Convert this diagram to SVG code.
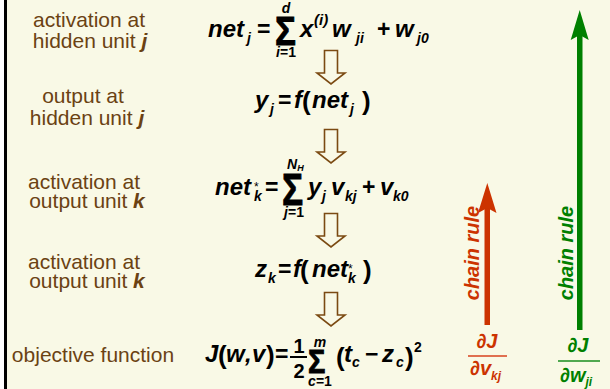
<svg xmlns="http://www.w3.org/2000/svg" width="610" height="389" viewBox="0 0 610 389">
<defs>
<style>
.lbl{font-family:"Liberation Sans",Arial,sans-serif;font-size:21px;fill:#6B4213;text-anchor:middle}
.lbl .v{font-weight:bold;font-style:italic}
.eq{font-family:"Liberation Sans",Arial,sans-serif;font-size:24px;font-weight:bold;font-style:italic;fill:#000}
.sub{font-size:14px}
.up{font-style:normal}
.op{font-style:normal;font-size:23px}
.par{font-size:26px;font-style:normal}
.ast{font-size:12px;font-weight:normal;font-style:normal}
.sig{font-style:normal;stroke:#000;stroke-width:0.9}
.mid{text-anchor:middle}
.hol{fill:#F9F9E6;stroke:#7B4A12;stroke-width:1.6}
.red{fill:#CC3300}
.grn{fill:#008000}
.cr{font-family:"Liberation Sans",Arial,sans-serif;font-size:20px;font-weight:bold;font-style:italic;text-anchor:middle}
.pd{font-family:"Liberation Sans","DejaVu Sans",sans-serif;font-size:20px;font-weight:bold;font-style:italic}
</style>
</defs>
<rect x="0" y="0" width="610" height="389" fill="#F9F9E6"/>
<rect x="0" y="0" width="4" height="389" fill="#FFFFFF"/>
<rect x="4" y="0" width="3" height="389" fill="#000000"/>

<g id="label1" class="lbl">
<text x="89" y="27">activation at</text>
<text x="90" y="48">hidden unit <tspan class="v">j</tspan></text>
</g>
<g id="label2" class="lbl">
<text x="83" y="103">output at</text>
<text x="87" y="125">hidden unit <tspan class="v">j</tspan></text>
</g>
<g id="label3" class="lbl">
<text x="84" y="189">activation at</text>
<text x="87" y="208">output unit <tspan class="v">k</tspan></text>
</g>
<g id="label4" class="lbl">
<text x="84" y="269">activation at</text>
<text x="87" y="288">output unit <tspan class="v">k</tspan></text>
</g>
<g id="label5" class="lbl">
<text x="93" y="362">objective function</text>
</g>

<g id="eq1" class="eq">
<text x="208" y="37">net</text>
<text x="247" y="43" class="sub">j</text>
<text x="257" y="37" class="op">=</text>
<text transform="translate(275,45) scale(0.85,1)" class="sig" style="font-size:41px">Σ</text>
<text x="286" y="13" class="sub mid">d</text>
<text x="286" y="57" class="sub mid">i<tspan class="up">=1</tspan></text>
<text x="300" y="37">x</text>
<text x="314" y="25" style="font-size:15px">(i)</text>
<text x="332" y="37">w</text>
<text x="356" y="43" class="sub">ji</text>
<text x="377" y="37" class="op">+</text>
<text x="395" y="37">w</text>
<text x="417" y="43" class="sub">j0</text>
</g>

<g id="eq2" class="eq">
<text x="255" y="108">y</text>
<text x="270" y="114" class="sub">j</text>
<text x="278" y="108" class="op">=</text>
<text x="294" y="108">f</text>
<text x="302" y="110" class="par">(</text>
<text x="312" y="108">net</text>
<text x="350" y="114" class="sub">j</text>
<text x="362" y="110" class="par">)</text>
</g>

<g id="eq3" class="eq">
<text x="215" y="195">net</text>
<text x="254" y="191" class="ast">*</text>
<text x="254" y="201" class="sub">k</text>
<text x="265" y="195" class="op">=</text>
<text transform="translate(282,205) scale(0.8,1)" class="sig" style="font-size:44px">Σ</text>
<text x="287" y="169" class="sub">N<tspan style="font-size:9px" dy="2">H</tspan></text>
<text x="294" y="217" class="sub mid">j<tspan class="up">=1</tspan></text>
<text x="308" y="195">y</text>
<text x="322" y="201" class="sub">j</text>
<text x="331" y="195">v</text>
<text x="345" y="201" class="sub">kj</text>
<text x="362" y="195" class="op">+</text>
<text x="380" y="195">v</text>
<text x="393" y="201" class="sub">k0</text>
</g>

<g id="eq4" class="eq">
<text x="255" y="277">z</text>
<text x="268" y="283" class="sub">k</text>
<text x="278" y="277" class="op">=</text>
<text x="293" y="277">f</text>
<text x="300" y="279" class="par">(</text>
<text x="312" y="277">net</text>
<text x="348" y="273" class="ast">*</text>
<text x="348" y="283" class="sub">k</text>
<text x="363" y="279" class="par">)</text>
</g>

<g id="eq5" class="eq">
<text x="205" y="362">J</text>
<text x="218" y="364" class="par">(</text>
<text x="226" y="362">w</text>
<text x="245" y="362">,</text>
<text x="252" y="362">v</text>
<text x="266" y="364" class="par">)</text>
<text x="275" y="362" class="op">=</text>
<text x="299" y="353" class="up mid" style="font-size:20px">1</text>
<line x1="290" y1="357" x2="307" y2="357" stroke="#000" stroke-width="2"/>
<text x="299" y="378" class="up mid" style="font-size:20px">2</text>
<text transform="translate(308,373) scale(0.85,1)" class="sig" style="font-size:34px">Σ</text>
<text x="320" y="347" class="sub mid">m</text>
<text x="320" y="386" class="sub mid">c<tspan class="up">=1</tspan></text>
<text x="336" y="366" class="par">(</text>
<text x="344" y="362">t</text>
<text x="352" y="367" class="sub">c</text>
<text x="365" y="362" class="op">−</text>
<text x="382" y="362">z</text>
<text x="396" y="367" class="sub">c</text>
<text x="405" y="366" class="par">)</text>
<text x="414" y="352" class="sub up">2</text>
</g>

<g id="connectors">
<polygon class="hol" points="324.5,50.5 337.5,50.5 337.5,73 345,73 331,84 317,73 324.5,73"/>
<polygon class="hol" points="324.5,129.5 337.5,129.5 337.5,152 345,152 331,163 317,152 324.5,152"/>
<polygon class="hol" points="324.5,213.5 337.5,213.5 337.5,236 345,236 331,247 317,236 324.5,236"/>
<polygon class="hol" points="324.5,292.5 337.5,292.5 337.5,315 345,315 331,326 317,315 324.5,315"/>
</g>

<g id="chain-red">
<rect x="484.5" y="205" width="5.5" height="120" class="red"/>
<polygon class="red" points="487.3,183 496.5,213 487.3,208 478,213"/>
<text transform="translate(479,253) rotate(-90)" class="cr red">chain rule</text>
<text x="487" y="348" class="pd red" text-anchor="middle">∂J</text>
<line x1="468" y1="356" x2="507" y2="356" stroke="#E07050" stroke-width="1.8"/>
<text x="470" y="375" class="pd red">∂v<tspan style="font-size:12px" dy="5">kj</tspan></text>
</g>

<g id="chain-green">
<rect x="577" y="32" width="5.5" height="298" class="grn"/>
<polygon class="grn" points="579.7,10 588.7,40 579.7,35 570.7,40"/>
<text transform="translate(573,253) rotate(-90)" class="cr grn">chain rule</text>
<text x="578" y="352" class="pd grn" text-anchor="middle">∂J</text>
<line x1="558" y1="361" x2="600" y2="361" stroke="#50A850" stroke-width="1.8"/>
<text x="560" y="382" class="pd grn">∂w<tspan style="font-size:12px" dy="4">ji</tspan></text>
</g>
</svg>
